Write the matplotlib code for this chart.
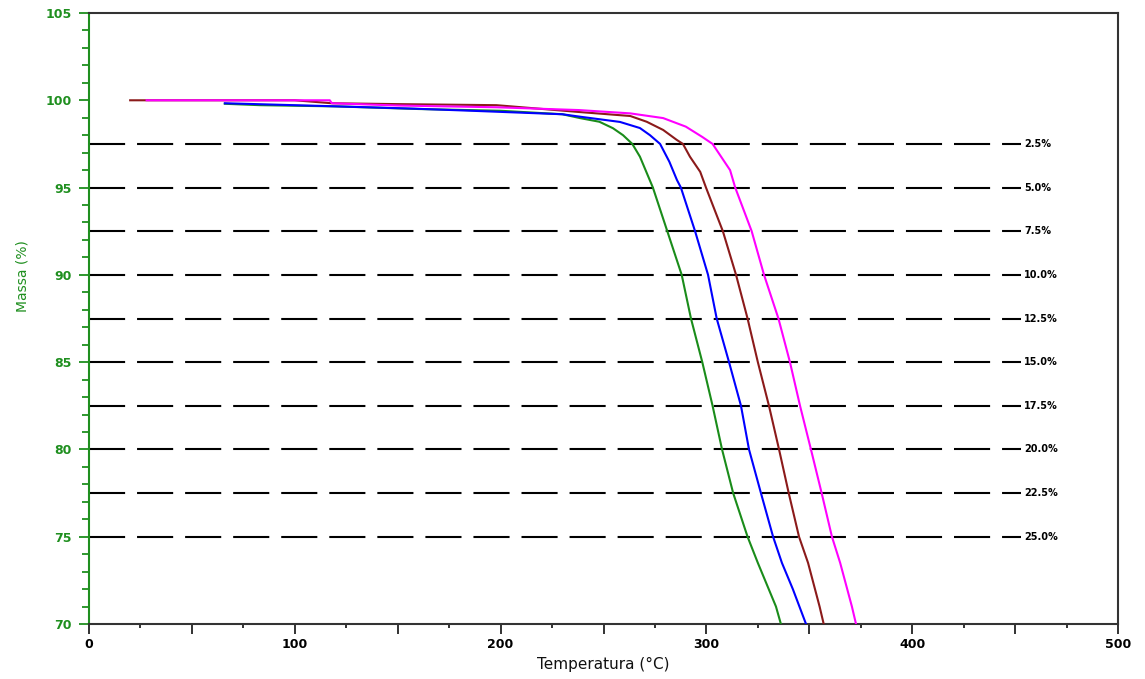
import matplotlib
matplotlib.use("Agg")
import matplotlib.pyplot as plt
from matplotlib.ticker import MultipleLocator

# ---- data ----
green_x = [66, 83, 120, 160, 200, 230, 238.6, 248, 254.6, 259.5, 264, 267.7, 274, 281, 288, 292.5,
           298, 303, 307.6, 313, 320, 325, 333.8, 336.2]
green_y = [99.8, 99.72, 99.65, 99.5, 99.4, 99.2, 98.98, 98.77, 98.4, 98.0, 97.5, 96.77, 95, 92.5, 90, 87.5,
           85, 82.5, 80, 77.5, 75, 73.5, 71.0, 70]

blue_x = [66, 115, 158, 188, 230, 238.6, 258, 267.7, 272.6, 277.5, 282, 285.7, 287.6, 294.5, 300.8,
          305, 311, 316.8, 320.7, 326.5, 332.4, 336.7, 342, 348.4]
blue_y = [99.83, 99.67, 99.52, 99.39, 99.2, 99.06, 98.76, 98.41, 98.0, 97.5, 96.48, 95.43, 95, 92.5, 90,
          87.5, 85, 82.5, 80, 77.5, 75, 73.5, 72.0, 70]

brown_x = [20, 100, 118, 150, 198, 238, 263, 271, 279, 285.6, 288.6, 292, 297, 299.8, 308, 314.4,
           320, 325, 330.4, 335.3, 340, 345, 349.4, 355, 357]
brown_y = [100, 100, 99.83, 99.78, 99.72, 99.33, 99.1, 98.77, 98.3, 97.73, 97.5, 96.77, 95.9, 95, 92.5, 90,
           87.5, 85, 82.5, 80, 77.5, 75, 73.5, 71.0, 70]

magenta_x = [28, 117, 118, 150, 198, 238, 263, 279, 290, 298, 303, 311.5, 314, 322, 328, 335,
             340.6, 345.5, 350.8, 356, 361, 365, 370.7, 372.7]
magenta_y = [100, 100, 99.83, 99.7, 99.6, 99.44, 99.25, 98.98, 98.49, 97.9, 97.5, 96.0, 95, 92.5, 90, 87.5,
             85, 82.5, 80, 77.5, 75, 73.5, 71.0, 70]

loss_levels = [97.5, 95, 92.5, 90, 87.5, 85, 82.5, 80, 77.5, 75]
loss_labels = ["2.5%", "5.0%", "7.5%", "10.0%", "12.5%", "15.0%", "17.5%", "20.0%", "22.5%", "25.0%"]

x_ticks = [0, 100, 200, 300, 400, 500]
y_ticks = [70, 75, 80, 85, 90, 95, 100, 105]

GREEN_AX = "#1f8f1f"

plt.rcParams["lines.scale_dashes"] = False
fig = plt.figure(figsize=(11.45, 6.79), dpi=100)
ax = fig.add_axes([89 / 1145, 1 - 624 / 679, (1118 - 89) / 1145, (624 - 13) / 679])

# reference dashed lines
for lvl, lab in zip(loss_levels, loss_labels):
    ax.plot([0, 452.9], [lvl, lvl], color="black", lw=1.5, dashes=(26, 8.6),
            solid_capstyle="butt", dash_capstyle="butt", zorder=2)
    ax.text(454.5, lvl, lab, fontsize=7, fontweight="bold", va="center", ha="left", color="black")

ax.plot(brown_x, brown_y, color="#8b1a1a", lw=1.5, zorder=3)
ax.plot(magenta_x, magenta_y, color="#ff00ff", lw=1.5, zorder=4)
ax.plot(green_x, green_y, color="#1a8c1a", lw=1.5, zorder=3)
ax.plot(blue_x, blue_y, color="#0000ff", lw=1.5, zorder=3)

ax.set_xlim(0, 500)
ax.set_ylim(70, 105)

ax.xaxis.set_major_locator(MultipleLocator(50))
ax.xaxis.set_minor_locator(MultipleLocator(25))
ax.set_xticklabels([str(int(v)) if v % 100 == 0 else "" for v in ax.get_xticks()])
ax.set_yticks(y_ticks)
ax.set_yticklabels([str(v) for v in y_ticks])
ax.yaxis.set_minor_locator(MultipleLocator(1))

ax.tick_params(axis="x", which="major", direction="out", length=7, width=1.3, colors="#222222",
               labelsize=9, pad=3, labelcolor="black")
ax.tick_params(axis="x", which="minor", direction="out", length=3, width=1.3, colors="#222222")
ax.tick_params(axis="y", which="major", direction="out", length=7.5, width=1.3, colors=GREEN_AX,
               labelsize=9, pad=5)
ax.tick_params(axis="y", which="minor", direction="out", length=4.8, width=1.3, colors=GREEN_AX)
for lab in ax.get_xticklabels() + ax.get_yticklabels():
    lab.set_fontweight("bold")

for side in ["top", "right", "bottom"]:
    ax.spines[side].set_color("#333333")
    ax.spines[side].set_linewidth(1.5)
ax.spines["left"].set_color(GREEN_AX)
ax.spines["left"].set_linewidth(1.5)

ax.set_xlabel("Temperatura (°C)", fontsize=11, color="#111111")
ax.xaxis.set_label_coords(0.5, -0.054)
ax.set_ylabel("Massa (%)", fontsize=10, color=GREEN_AX)
ax.yaxis.set_label_coords(-0.058, 0.57)

fig.savefig("out.png", dpi=100, facecolor="white")
